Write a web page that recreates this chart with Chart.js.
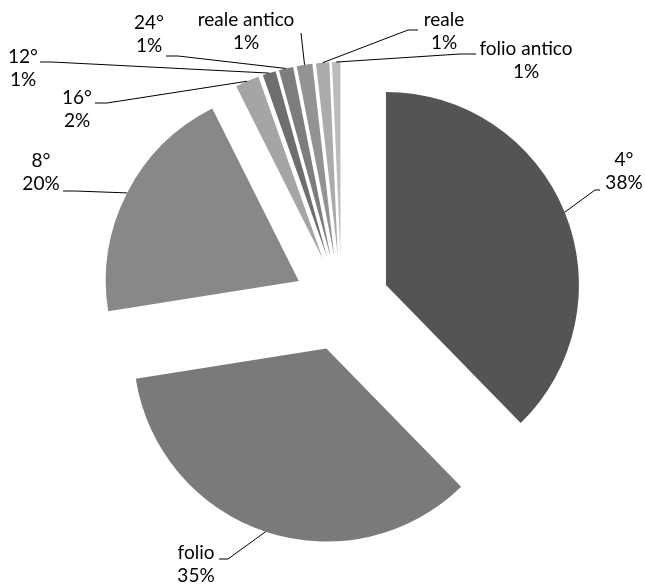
<!DOCTYPE html>
<html>
<head>
<meta charset="utf-8">
<script src="https://cdn.jsdelivr.net/npm/chart.js@4.4.0/dist/chart.umd.min.js"></script>
<style>
  html, body { margin: 0; padding: 0; background: #fff; }
  #wrap { position: relative; width: 645px; height: 586px; }
</style>
</head>
<body>
<div id="wrap"><canvas id="chart"></canvas></div>
<script>
// formats and their share (%)
var formats = ['4°', 'folio', '8°', '16°', '12°', '24°', 'reale antico', 'reale', 'folio antico'];
var shares = [37.7, 34.8, 20.1, 2.0, 1.1, 1.2, 1.3, 1.1, 0.7];
var greys = ['#545454', '#7a7a7a', '#888888', '#a5a5a5', '#6e6e6e', '#7d7d7d', '#939393', '#ababab', '#bcbcbc'];

// where the labels sit: text centre x, first line y, then the leader's elbow and end
var labelPos = [
    {x: 624, y: 160, elbow: [595, 190], end: [600, 190]},
    {x: 196, y: 553, elbow: [228, 559], end: [219, 559]},
    {x: 41, y: 161, elbow: [75, 191], end: [63, 191]},
    {x: 77, y: 98, elbow: [107, 103], end: [95, 103]},
    {x: 23, y: 57, elbow: [52, 62], end: [40, 62]},
    {x: 149, y: 23, elbow: [178, 56], end: [166, 56]},
    {x: 246, y: 20, elbow: [301, 33], end: [301, 33]},
    {x: 444, y: 20, elbow: [408, 30], end: [418, 30]},
    {x: 526, y: 49, elbow: [460, 54], end: [476, 54]}
];

var RADIUS = 193;
var EXPLODE = 48; // px each slice is pulled out

// the built-in offset option also grows and trims small arcs in v4,
// so pull every slice out by moving its centre along its middle angle instead
var explode = {
    id: 'explode',
    beforeDatasetsDraw: function(chart) {
        var area = chart.chartArea;
        var cx = (area.left + area.right) / 2;
        var cy = (area.top + area.bottom) / 2;
        var meta = chart.getDatasetMeta(0);
        meta.data.forEach(function(arc) {
            var mid = (arc.startAngle + arc.endAngle) / 2;
            arc.x = cx + Math.cos(mid) * EXPLODE;
            arc.y = cy + Math.sin(mid) * EXPLODE;
        })
    }
};

var leaders = {
    id: 'leaders',
    afterDatasetsDraw: function(chart) {
        var ctx = chart.ctx;
        var meta = chart.getDatasetMeta(0);
        var total = shares.reduce(function(a, b) { return a + b; }, 0);
        ctx.save();
        ctx.strokeStyle = '#000';
        ctx.lineWidth = 1;
        ctx.fillStyle = '#000';
        ctx.font = '19px Lato, "Open Sans", sans-serif';
        ctx.textAlign = 'center';
        ctx.textBaseline = 'middle';
        meta.data.forEach(function(arc, i) {
            var mid = (arc.startAngle + arc.endAngle) / 2;
            var px = arc.x + Math.cos(mid) * arc.outerRadius;
            var py = arc.y + Math.sin(mid) * arc.outerRadius;
            var p = labelPos[i];
            ctx.beginPath();
            ctx.moveTo(px, py);
            ctx.lineTo(p.elbow[0], p.elbow[1]);
            ctx.lineTo(p.end[0], p.end[1]);
            ctx.stroke();
            var pct = Math.round(shares[i] / total * 100) + '%';
            ctx.fillText(formats[i], p.x, p.y);
            ctx.fillText(pct, p.x, p.y + 23);
        })
        ctx.restore();
    }
};

var ctx = document.getElementById("chart").getContext("2d");
var chart = new Chart(ctx, {
    type: 'pie',
    data: {
        labels: formats,
        datasets: [{
            data: shares,
            backgroundColor: greys,
            borderWidth: 0,
            hoverOffset: 0
        }]
    },
    options: {
        responsive: true,
        maintainAspectRatio: false,
        animation: false,
        radius: RADIUS,
        layout: {
            padding: {left: 38, right: 0, top: 20, bottom: 0}
        },
        plugins: {
            legend: {display: false},
            tooltip: {enabled: false}
        }
    },
    plugins: [explode, leaders]
});
</script>
</body>
</html>
